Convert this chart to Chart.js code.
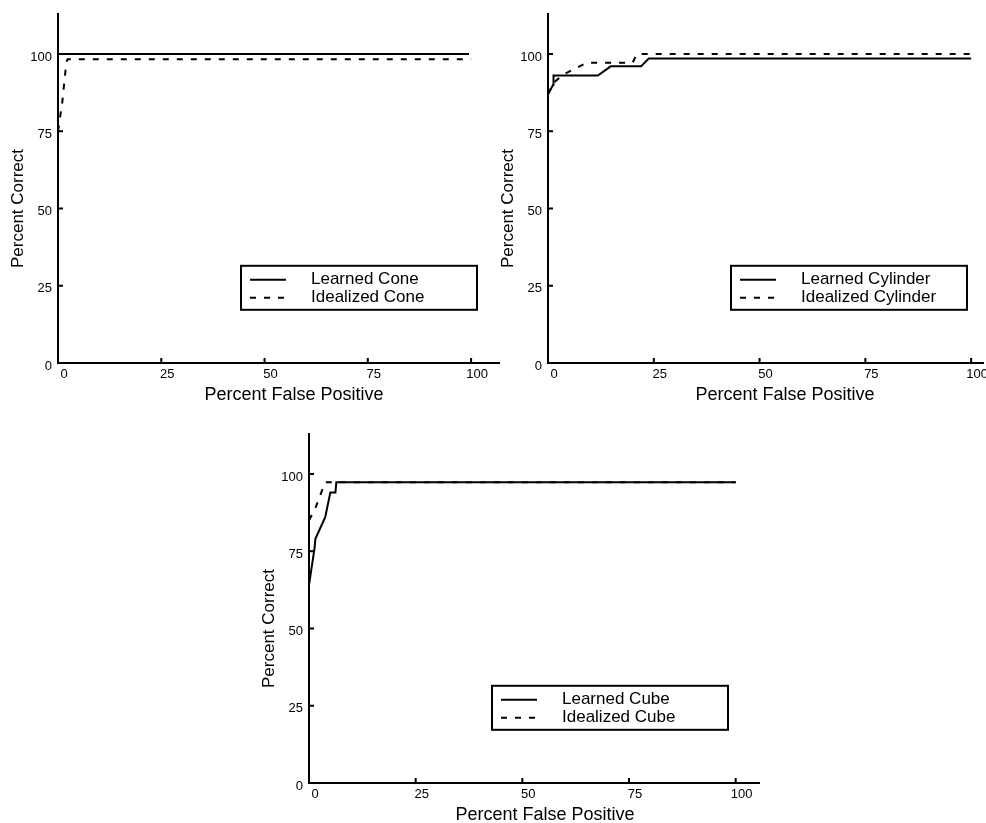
<!DOCTYPE html>
<html>
<head>
<meta charset="utf-8">
<script src="https://cdn.jsdelivr.net/npm/chart.js@4.4.1/dist/chart.umd.min.js"></script>
<style>
  html, body { margin: 0; padding: 0; background: #fff; }
  body { width: 986px; height: 823px; position: relative; overflow: hidden; }
  canvas { position: absolute; }
</style>
</head>
<body>
<canvas id="cone" width="500" height="410" style="left:0px;top:0px"></canvas>
<canvas id="cylinder" width="493" height="410" style="left:493px;top:0px"></canvas>
<canvas id="cube" width="510" height="403" style="left:250px;top:420px"></canvas>
<script>
// ROC-style curves: percent correct vs percent false positive
const TICKS = [0, 25, 50, 75, 100];

const CONE_LEARNED_FP = [0, 99.5];
const CONE_LEARNED_PC = [100, 100];
const CONE_IDEAL_FP = [0, 1, 2, 2.3, 100];
const CONE_IDEAL_PC = [75, 84, 97, 98.3, 98.3];

const CYL_LEARNED_FP = [0, 1.2, 1.3, 11.8, 14.8, 22, 23.8, 100];
const CYL_LEARNED_PC = [87, 90, 93, 93, 96, 96, 98.5, 98.5];
const CYL_IDEAL_FP = [0, 1.4, 3.8, 9.2, 20, 21, 100];
const CYL_IDEAL_PC = [87, 90.8, 93.5, 97.2, 97.2, 100, 100];

const CUBE_LEARNED_FP = [0, 1.3, 1.5, 3.8, 5, 6.2, 6.4, 100];
const CUBE_LEARNED_PC = [64, 76, 79, 86, 94, 94, 97.3, 97.3];
const CUBE_IDEAL_FP = [0, 1.4, 2.6, 3.8, 100];
const CUBE_IDEAL_PC = [85, 88.6, 93, 97.3, 97.3];

const FONT = '"Liberation Sans", Arial, Helvetica, sans-serif';
const DASH = [6, 8];

function toPoints(xs, ys) {
  return xs.map((x, i) => ({ x, y: ys[i] }));
}

// inward tick marks, axis titles and the boxed legend
const decorPlugin = {
  id: 'decor',
  afterDraw(chart, args, opts) {
    const ctx = chart.ctx;
    const xs = chart.scales.x;
    const ys = chart.scales.y;
    const area = chart.chartArea;
    ctx.save();
    ctx.strokeStyle = '#000';
    ctx.lineWidth = 2;
    TICKS.forEach((v) => {
      const px = xs.getPixelForValue(v);
      ctx.beginPath();
      ctx.moveTo(px, area.bottom);
      ctx.lineTo(px, area.bottom - 5);
      ctx.stroke();
      const py = ys.getPixelForValue(v);
      ctx.beginPath();
      ctx.moveTo(area.left, py);
      ctx.lineTo(area.left + 5, py);
      ctx.stroke();
    });

    ctx.fillStyle = '#000';
    ctx.textAlign = 'center';
    ctx.textBaseline = 'middle';
    ctx.font = `18px ${FONT}`;
    ctx.fillText('Percent False Positive', opts.titleX, area.bottom + 32);
    ctx.font = `17px ${FONT}`;
    ctx.save();
    ctx.translate(area.left - 40, ys.getPixelForValue(50));
    ctx.rotate(-Math.PI / 2);
    ctx.fillText('Percent Correct', 0, 0);
    ctx.restore();

    // legend box
    const bx = area.left + 183;
    const by = area.top + 252;
    ctx.lineWidth = 2;
    ctx.strokeRect(bx, by, 236, 44);
    ctx.textAlign = 'left';
    const rows = [
      { label: opts.labels[0], dash: [], y: by + 14 },
      { label: opts.labels[1], dash: DASH, y: by + 32 },
    ];
    rows.forEach((r) => {
      ctx.setLineDash(r.dash);
      ctx.beginPath();
      ctx.moveTo(bx + 9, r.y);
      ctx.lineTo(bx + 45, r.y);
      ctx.stroke();
      ctx.setLineDash([]);
      ctx.fillText(r.label, bx + 70, r.y);
    });
    ctx.restore();
  },
};

function makePanel(id, cfg) {
  return new Chart(document.getElementById(id), {
    type: 'scatter',
    data: {
      datasets: [
        {
          label: cfg.labels[0],
          data: toPoints(cfg.learnedFp, cfg.learnedPc),
          showLine: true,
          borderColor: '#000',
          borderWidth: 2,
          pointRadius: 0,
          clip: false,
        },
        {
          label: cfg.labels[1],
          data: toPoints(cfg.idealFp, cfg.idealPc),
          showLine: true,
          borderColor: '#000',
          borderWidth: 2,
          borderDash: DASH,
          pointRadius: 0,
          clip: false,
        },
      ],
    },
    options: {
      responsive: false,
      animation: false,
      devicePixelRatio: 1,
      layout: { padding: { top: cfg.top, right: 0, left: 0, bottom: 0 } },
      plugins: {
        legend: { display: false },
        tooltip: { enabled: false },
        decor: { labels: cfg.labels, titleX: cfg.titleX },
      },
      scales: {
        x: {
          type: 'linear',
          min: 0,
          max: cfg.xMax,
          afterBuildTicks: (s) => { s.ticks = TICKS.map((v) => ({ value: v })); },
          afterFit: (s) => { s.height = cfg.xAxisH; },
          grid: { display: false, drawTicks: false },
          border: { display: true, color: '#000', width: 2 },
          ticks: {
            color: '#000',
            font: { family: FONT, size: 13 },
            padding: 4,
            labelOffset: 6,
            maxRotation: 0,
            autoSkip: false,
          },
        },
        y: {
          type: 'linear',
          min: 0,
          max: 113,
          afterBuildTicks: (s) => { s.ticks = TICKS.map((v) => ({ value: v })); },
          afterFit: (s) => { s.width = cfg.yAxisW; },
          grid: { display: false, drawTicks: false },
          border: { display: true, color: '#000', width: 2 },
          ticks: {
            color: '#000',
            font: { family: FONT, size: 13 },
            padding: 6,
            labelOffset: 3,
            autoSkip: false,
          },
        },
      },
    },
    plugins: [decorPlugin],
  });
}

makePanel('cone', {
  labels: ['Learned Cone', 'Idealized Cone'],
  learnedFp: CONE_LEARNED_FP, learnedPc: CONE_LEARNED_PC,
  idealFp: CONE_IDEAL_FP, idealPc: CONE_IDEAL_PC,
  xMax: 107, yAxisW: 58, xAxisH: 47, top: 12, titleX: 294,
});

makePanel('cylinder', {
  labels: ['Learned Cylinder', 'Idealized Cylinder'],
  learnedFp: CYL_LEARNED_FP, learnedPc: CYL_LEARNED_PC,
  idealFp: CYL_IDEAL_FP, idealPc: CYL_IDEAL_PC,
  xMax: 102.8, yAxisW: 55, xAxisH: 47, top: 12, titleX: 292,
});

makePanel('cube', {
  labels: ['Learned Cube', 'Idealized Cube'],
  learnedFp: CUBE_LEARNED_FP, learnedPc: CUBE_LEARNED_PC,
  idealFp: CUBE_IDEAL_FP, idealPc: CUBE_IDEAL_PC,
  xMax: 105.7, yAxisW: 59, xAxisH: 40, top: 12, titleX: 295,
});
</script>
</body>
</html>
